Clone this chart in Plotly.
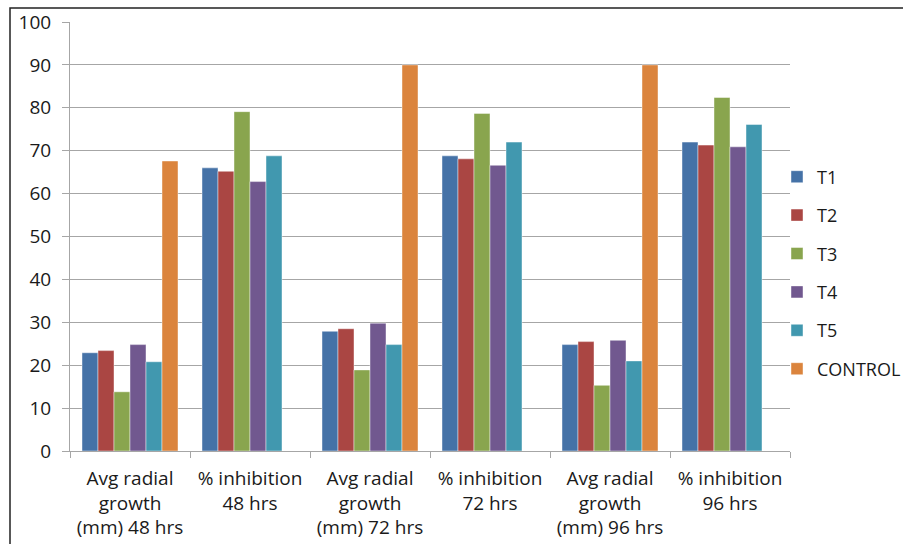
import plotly.graph_objects as go

categories = [
    "Avg radial<br>growth<br>(mm) 48 hrs",
    "% inhibition<br>48 hrs",
    "Avg radial<br>growth<br>(mm) 72 hrs",
    "% inhibition<br>72 hrs",
    "Avg radial<br>growth<br>(mm) 96 hrs",
    "% inhibition<br>96 hrs",
]

t1 = [22.9, 66.0, 27.9, 68.8, 24.8, 72.0]
t2 = [23.4, 65.2, 28.5, 68.1, 25.5, 71.3]
t3 = [13.8, 79.1, 18.9, 78.7, 15.3, 82.4]
t4 = [24.8, 62.8, 29.8, 66.6, 25.8, 70.9]
t5 = [20.8, 68.8, 24.8, 72.0, 21.0, 76.1]
control = [67.6, None, 90.0, None, 90.0, None]

series = [
    ("T1", t1, "#4572A7"),
    ("T2", t2, "#AA4643"),
    ("T3", t3, "#89A54E"),
    ("T4", t4, "#71588F"),
    ("T5", t5, "#4198AF"),
    ("CONTROL", control, "#DB843D"),
]

y_ticks = list(range(0, 101, 10))

fig = go.Figure()
for name, vals, color in series:
    fig.add_trace(go.Bar(
        x=categories, y=vals, name=name, legendgroup=name,
        marker=dict(color=color, line=dict(color="rgba(255,255,255,0.55)", width=0.8)),
    ))

W, H = 903, 544
L, R, T, B = 70, 113, 22, 93
pw, ph = W - L - R, H - T - B

FONT = "Open Sans, sans-serif"

fig.update_layout(
    width=W, height=H,
    margin=dict(l=L, r=R, t=T, b=B, autoexpand=False),
    paper_bgcolor="white", plot_bgcolor="white",
    barmode="group", bargap=0.2, bargroupgap=0.0,
    font=dict(family=FONT, size=19, color="#1a1a1a"),
    showlegend=True,
    legend=dict(
        xref="container", x=777 / W, xanchor="left",
        yref="paper", y=(451 - 273) / ph, yanchor="middle",
        font=dict(family=FONT, size=18, color="#1a1a1a"),
        tracegroupgap=12, itemwidth=30,
        bgcolor="rgba(0,0,0,0)",
    ),
    xaxis=dict(
        type="category",
        showline=True, linecolor="#a6a6a6", linewidth=1,
        ticks="outside", tickson="boundaries", ticklen=6, tickcolor="#a6a6a6",
        showgrid=False,
        ticklabelstandoff=10,
        tickfont=dict(family=FONT, size=19, color="#1a1a1a"),
    ),
    yaxis=dict(
        range=[0, 100], tickvals=y_ticks,
        showline=True, linecolor="#a6a6a6", linewidth=1,
        ticks="outside", ticklen=7, tickcolor="#a6a6a6",
        showgrid=True, gridcolor="#a6a6a6", gridwidth=1,
        zeroline=False,
        ticklabelstandoff=7,
        tickfont=dict(family=FONT, size=19, color="#1a1a1a"),
    ),
)

# outer chart border
fig.add_shape(
    type="rect", xref="paper", yref="paper",
    x0=(10 - L) / pw, x1=(W + 5 - L) / pw,
    y0=-(B + 5) / ph, y1=1 + (T - 8) / ph,
    line=dict(color="#222", width=1.5), fillcolor="rgba(0,0,0,0)", layer="below",
)

fig.write_html("out.html")
